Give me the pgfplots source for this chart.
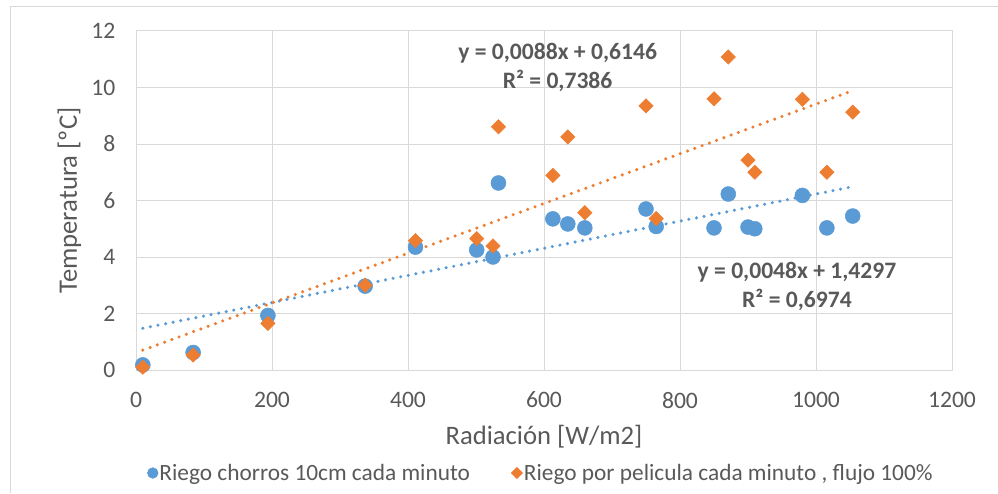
\documentclass[border=0pt]{standalone}
\usepackage{fontspec}
\setmainfont{Carlito}
\usepackage{pgfplots}
\pgfplotsset{compat=1.18}
\definecolor{cblue}{HTML}{5B9BD5}
\definecolor{corange}{HTML}{ED7D31}
\definecolor{gridc}{HTML}{D9D9D9}
\definecolor{txt}{HTML}{595959}

\pgfplotstableread{
x y
10 0.18
84 0.62
194 1.93
337 2.97
411 4.35
501 4.25
525 4.00
533 6.62
613 5.35
635 5.17
660 5.03
750 5.70
765 5.08
850 5.03
871 6.23
900 5.06
910 5.00
980 6.18
1016 5.03
1054 5.45
}\chorros

\pgfplotstableread{
x y
10 0.10
84 0.53
194 1.65
337 3.00
411 4.58
501 4.65
525 4.39
533 8.61
613 6.89
635 8.25
660 5.57
750 9.35
765 5.36
850 9.60
871 11.08
900 7.43
910 7.00
980 9.58
1016 7.00
1054 9.13
}\pelicula

\begin{document}
\begin{tikzpicture}
\useasboundingbox (0,0) rectangle (748.5pt,369.75pt);
\draw[gridc, line width=0.75pt] (7.5pt,0pt) -- (7.5pt,364.5pt) -- (748.5pt,364.5pt);
\begin{axis}[
  at={(102pt,92.25pt)}, anchor=south west,
  scale only axis, width=612pt, height=254.25pt,
  xmin=0, xmax=1200, ymin=0, ymax=12,
  xtick={0,200,...,1200}, ytick={0,2,...,12},
  grid=major,
  major grid style={gridc, line width=0.75pt},
  axis line style={gridc, line width=0.75pt},
  tick style={draw=none},
  /pgf/number format/assume math mode=true,
  /pgf/number format/1000 sep={},
  ticklabel style={font=\fontsize{17.7}{20}\selectfont, text=txt},
  xticklabel style={yshift=-13pt},
  yticklabel style={xshift=-12pt},
  xlabel={Radiación [W/m2]},
  ylabel={Temperatura [ºC]},
  label style={font=\fontsize{20}{22}\selectfont, text=txt},
  xlabel style={at={([yshift=-50pt]axis description cs:0.5,0)}, anchor=center},
  ylabel style={at={([xshift=-50pt]axis description cs:0,0.5)}, anchor=center, rotate=0},
  legend columns=2,
  legend style={at={([yshift=-77.25pt]axis description cs:0.496,0)}, anchor=center,
    draw=none, fill=none, font=\fontsize{17.5}{20}\selectfont, text=txt,
    /tikz/every even column/.append style={column sep=30pt},
    nodes={inner sep=1pt}},
  legend cell align=left,
  clip=false,
]
\addplot[only marks, mark=*, mark size=5.6pt, color=cblue, mark options={draw=cblue, fill=cblue},
  legend image post style={mark size=4pt}] table[x=x,y=y] {\chorros};
\addlegendentry{Riego chorros 10cm cada minuto}
\addplot[only marks, mark=square*, mark size=3.8pt, color=corange, mark options={draw=corange, fill=corange, rotate=45},
  legend image post style={mark size=3pt}] table[x=x,y=y] {\pelicula};
\addlegendentry{Riego por pelicula cada minuto , flujo 100\%}
% trend lines (Excel linear fits, endpoints)
\addplot[forget plot, cblue, line width=2.6pt, line cap=round, dash pattern=on 0pt off 5.8pt]
  coordinates {(10,1.478) (1054,6.489)};
\addplot[forget plot, corange, line width=2.6pt, line cap=round, dash pattern=on 0pt off 5.8pt]
  coordinates {(10,0.702) (1054,9.890)};
\node[align=center, font=\bfseries\fontsize{17.7}{21.5}\selectfont, text=txt] at (axis cs:620,10.72)
  {y = 0,0088x + 0,6146\\R² = 0,7386};
\node[align=center, font=\bfseries\fontsize{17.7}{21.5}\selectfont, text=txt] at (axis cs:972,2.96)
  {y = 0,0048x + 1,4297\\R² = 0,6974};
\end{axis}
\end{tikzpicture}
\end{document}
